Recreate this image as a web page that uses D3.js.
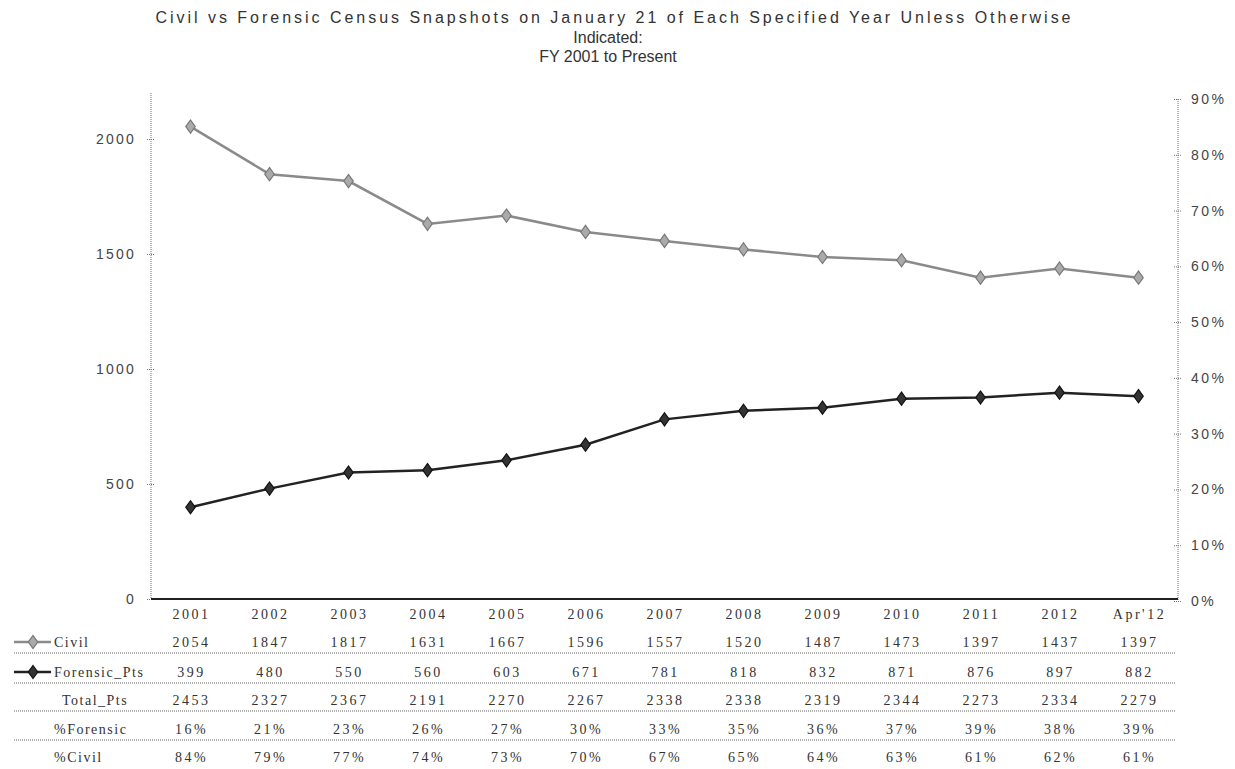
<!DOCTYPE html>
<html><head><meta charset="utf-8">
<script src="https://cdnjs.cloudflare.com/ajax/libs/d3/7.8.5/d3.min.js"></script>
<style>body{margin:0;background:#fff}svg{display:block}</style>
</head><body><svg id="c" width="1235" height="769"></svg>
<script>
const categories = ["2001","2002","2003","2004","2005","2006","2007","2008","2009","2010","2011","2012","Apr'12"];
const civil = [2054,1847,1817,1631,1667,1596,1557,1520,1487,1473,1397,1437,1397];
const forensic = [399,480,550,560,603,671,781,818,832,871,876,897,882];
const totalPts = [2453,2327,2367,2191,2270,2267,2338,2338,2319,2344,2273,2334,2279];
const pctForensic = ["16%","21%","23%","26%","27%","30%","33%","35%","36%","37%","39%","38%","39%"];
const pctCivil = ["84%","79%","77%","74%","73%","70%","67%","65%","64%","63%","61%","62%","61%"];
const leftTicks = [0,500,1000,1500,2000];
const rightTicks = [0,0.1,0.2,0.3,0.4,0.5,0.6,0.7,0.8,0.9];
const titleLines = ["Civil vs Forensic Census Snapshots on January 21 of Each Specified Year Unless Otherwise","Indicated:","FY 2001 to Present"];

const svg = d3.select("#c");
const L = 151, R = 1178, T = 93, B = 599;
const x = d3.scaleBand().domain(categories).range([L, R]);
const cx = d => x(d) + x.bandwidth()/2;
const y = d3.scaleLinear().domain([0,2200]).range([B, T]);
const y2 = d3.scaleLinear().domain([0,0.9]).range([601, 99]);
const sans = "Liberation Sans, Arial, sans-serif";
const serif = "Liberation Serif, Times New Roman, serif";

// title
const tg = svg.append("g");
tg.selectAll("text").data(titleLines).join("text")
  .attr("x",(d,i)=> i===0 ? 613 : 608).attr("y",(d,i)=>23+i*19.5).attr("text-anchor","middle")
  .attr("font-family",sans).attr("font-size",16).attr("fill","#333").text(d=>d);
tg.select("text").attr("textLength",915).attr("lengthAdjust","spacing");

// left axis
const la = svg.append("g").attr("transform",`translate(${L},0)`)
  .call(d3.axisLeft(y).tickValues(leftTicks).tickSize(4).tickFormat(d3.format("d")));
la.select(".domain").attr("stroke","#777").attr("stroke-dasharray","1,1").attr("d",`M0,${T}V${B}`);
la.selectAll(".tick line").attr("stroke","#777").attr("x2",-4).attr("x1",3).attr("stroke-dasharray","1,1");
la.selectAll(".tick text").attr("x",-15).attr("font-family",sans).attr("font-size",14).attr("letter-spacing",2.2).attr("fill","#444");

// right axis
const ra = svg.append("g").attr("transform",`translate(${R},0)`)
  .call(d3.axisRight(y2).tickValues(rightTicks).tickSize(4).tickFormat(d3.format(".0%")));
ra.select(".domain").attr("stroke","#777").attr("stroke-dasharray","1,1").attr("d",`M0,99V601`);
ra.selectAll(".tick line").attr("stroke","#777").attr("x1",-4).attr("x2",4).attr("stroke-dasharray","1,1");
ra.selectAll(".tick text").attr("x",13).attr("font-family",sans).attr("font-size",14).attr("letter-spacing",2.5).attr("fill","#444");

// x baseline
svg.append("line").attr("x1",L).attr("x2",R).attr("y1",B).attr("y2",B).attr("stroke","#222").attr("stroke-width",2);

// lines
const line = d3.line().x((d,i)=>cx(categories[i])).y(d=>y(d));
svg.append("path").datum(civil).attr("d",line).attr("fill","none").attr("stroke","#8a8a8a").attr("stroke-width",2.5);
svg.append("path").datum(forensic).attr("d",line).attr("fill","none").attr("stroke","#222").attr("stroke-width",2.5);
const diamond = d3.symbol().type(d3.symbolDiamond).size(50);
svg.append("g").selectAll("path").data(civil).join("path")
  .attr("d",diamond).attr("transform",(d,i)=>`translate(${cx(categories[i])},${y(d)}) scale(1.25,1)`)
  .attr("fill","#aaa").attr("stroke","#777").attr("stroke-width",1);
svg.append("g").selectAll("path").data(forensic).join("path")
  .attr("d",diamond).attr("transform",(d,i)=>`translate(${cx(categories[i])},${y(d)}) scale(1.25,1)`)
  .attr("fill","#333").attr("stroke","#111").attr("stroke-width",1);

// data table
svg.append("g").selectAll("text").data(categories).join("text")
  .attr("x",d=>cx(d)+1).attr("y",619).attr("text-anchor","middle")
  .attr("font-family",serif).attr("font-size",14).attr("letter-spacing",2.5).attr("fill","#333").text(d=>d);

const rows = [
  {label:"Civil", vals:civil, key:"civil", indent:54},
  {label:"Forensic_Pts", vals:forensic, key:"forensic", indent:54},
  {label:"Total_Pts", vals:totalPts, key:null, indent:62},
  {label:"%Forensic", vals:pctForensic, key:null, indent:54},
  {label:"%Civil", vals:pctCivil, key:null, indent:54}
];
const rowY = [647, 677, 705, 734, 762];
rows.forEach((r,ri)=>{
  const g = svg.append("g");
  g.append("text").attr("x",r.indent).attr("y",rowY[ri]).attr("font-family",serif).attr("font-size",14)
    .attr("letter-spacing",1.5).attr("fill","#333").text(r.label);
  g.selectAll("text.v").data(r.vals).join("text").attr("class","v")
    .attr("x",(d,i)=>cx(categories[i])+1).attr("y",rowY[ri]).attr("text-anchor","middle")
    .attr("font-family",serif).attr("font-size",14).attr("letter-spacing",2.5).attr("fill","#333").text(d=>d);
  if (r.key){
    const ly = rowY[ri]-5;
    g.append("line").attr("x1",14).attr("x2",51).attr("y1",ly).attr("y2",ly)
      .attr("stroke", r.key==="civil"?"#8a8a8a":"#222").attr("stroke-width",2.5);
    g.append("path").attr("d",diamond).attr("transform",`translate(33,${ly}) scale(1.25,1)`)
      .attr("fill", r.key==="civil"?"#aaa":"#333").attr("stroke", r.key==="civil"?"#777":"#111");
  }
  if (ri<rows.length-1){
    const sy = rowY[ri] + 6;
    g.append("line").attr("x1",14).attr("x2",1175).attr("y1",sy).attr("y2",sy)
      .attr("stroke","#666").attr("stroke-dasharray","1,1");
  }
});
</script></body></html>
